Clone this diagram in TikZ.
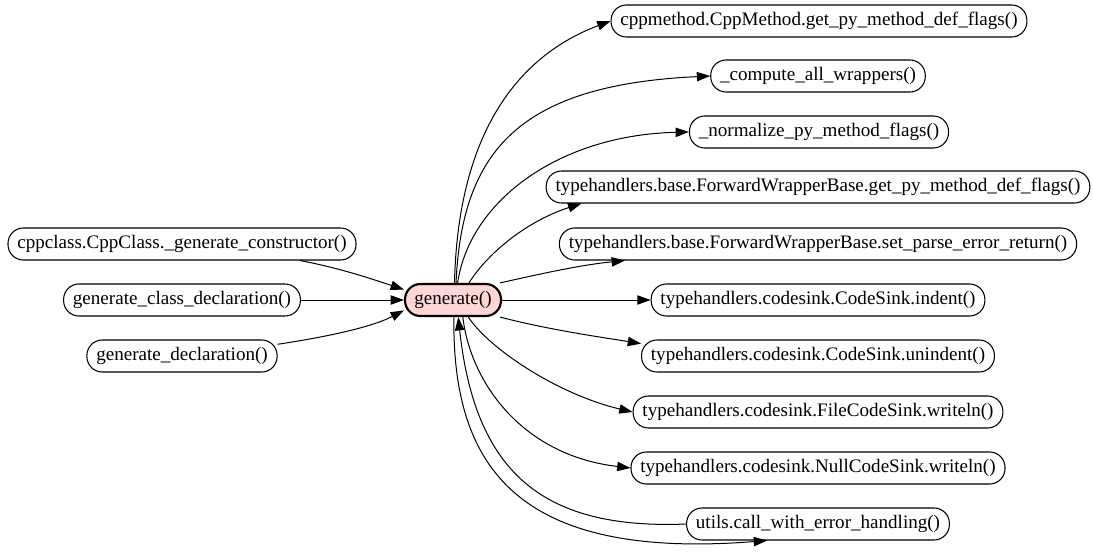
\documentclass[tikz,border=0pt]{standalone}
\usepackage{fontspec}
\setmainfont{Liberation Serif}
\usepackage{xcolor}
\usetikzlibrary{positioning, arrows.meta, calc}
\definecolor{callpink}{RGB}{255,213,213}

\begin{document}
\begin{tikzpicture}[
    x=0.75pt, y=-0.75pt,
    fn_style/.style={draw, line width=0.8pt, rounded corners=11.5pt, minimum height=24pt, inner xsep=7pt, inner ysep=0pt, font=\fontsize{14.3}{16}\selectfont},
    main_style/.style={fn_style, fill=callpink, line width=1.6pt},
    edge_style/.style={line width=0.75pt, -{Triangle[length=10pt, width=7pt]}}
]
    \useasboundingbox (0,0) rectangle (1093,557);

    % Nodes
    \node[main_style] (gen) at (453,300) {generate()};

    \node[fn_style] (cppc) at (182,244) {cppclass.CppClass.\_generate\_constructor()};
    \node[fn_style] (gcd) at (182,300) {generate\_class\_declaration()};
    \node[fn_style] (gd) at (182,356) {generate\_declaration()};

    \node[fn_style] (cppm) at (819,21) {cppmethod.CppMethod.get\_py\_method\_def\_flags()};
    \node[fn_style] (comp) at (818,76) {\_compute\_all\_wrappers()};
    \node[fn_style] (norm) at (819,132) {\_normalize\_py\_method\_flags()};
    \node[fn_style] (fwbget) at (818,187) {typehandlers.base.ForwardWrapperBase.get\_py\_method\_def\_flags()};
    \node[fn_style] (fwbset) at (818,244) {typehandlers.base.ForwardWrapperBase.set\_parse\_error\_return()};
    \node[fn_style] (ind) at (818,300) {typehandlers.codesink.CodeSink.indent()};
    \node[fn_style] (unind) at (818,356) {typehandlers.codesink.CodeSink.unindent()};
    \node[fn_style] (fcs) at (818,412) {typehandlers.codesink.FileCodeSink.writeln()};
    \node[fn_style] (ncs) at (818,468) {typehandlers.codesink.NullCodeSink.writeln()};
    \node[fn_style] (utils) at (818,524) {utils.call\_with\_error\_handling()};

    % Callers
    \draw[edge_style] ($(cppc.south)+(118,0)$) .. controls (340,268) and (375,280) .. (gen.168);
    \draw[edge_style] (gcd.east) -- (gen.west);
    \draw[edge_style] (gd.7) .. controls (320,338) and (370,328) .. (gen.192);

    % Callees
    \draw[edge_style] (gen.85) .. controls (458,130) and (520,55) .. (cppm.west);
    \draw[edge_style] (gen.80) .. controls (462,150) and (520,85) .. (comp.west);
    \draw[edge_style] (gen.75) .. controls (470,200) and (560,135) .. (norm.west);
    \draw[edge_style] (gen.47) .. controls (490,250) and (530,220) .. (fwbget.184);
    \draw[edge_style] (gen.20) .. controls (540,274) and (580,265) .. ($(fwbset.south)+(-193,0)$);
    \draw[edge_style] (gen.east) -- (ind.west);
    \draw[edge_style] (gen.-20) .. controls (550,330) and (600,337) .. (unind.176);
    \draw[edge_style] (gen.-48) .. controls (490,350) and (560,395) .. (fcs.west);
    \draw[edge_style] (gen.-60) .. controls (470,380) and (520,455) .. (ncs.west);
    \draw[edge_style] (gen.-87) .. controls (452,470) and (520,560) .. (utils.198);
    \draw[edge_style] (utils.west) .. controls (540,530) and (475,470) .. (gen.-73);
\end{tikzpicture}
\end{document}
